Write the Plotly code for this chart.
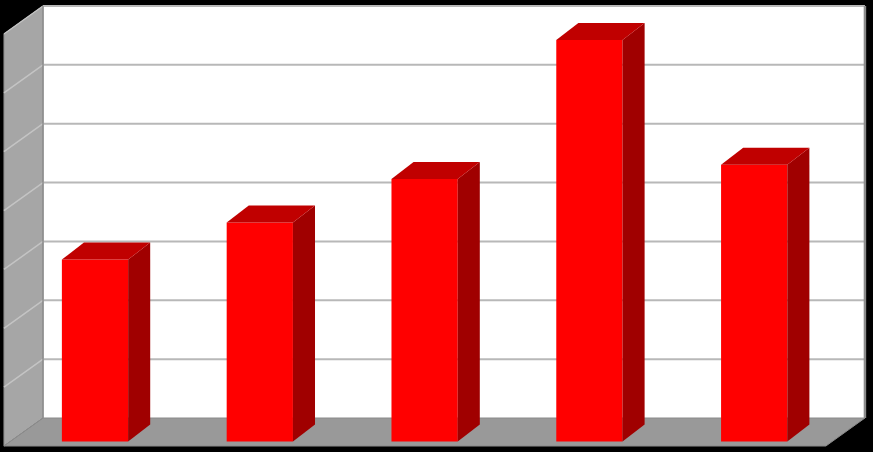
import plotly.graph_objects as go

# values (in gridline steps, axis 0..7, no labels shown)
categories = [0, 1, 2, 3, 4]
values = [3.09, 3.72, 4.46, 6.82, 4.70]
grid_values = [1, 2, 3, 4, 5, 6, 7]
axis_max = 7

RED = "#ff0000"
RED_TOP = "#c00000"
RED_SIDE = "#a00000"

# oblique 3d geometry, in data units
BAR_W = 0.402
BX, BY = 0.134, 0.289          # bar depth
WX, WY = 0.237, 0.476          # wall depth
XL, XR = -0.3155, 4.672        # back wall left / right
Y0 = 0.399                     # back wall floor level

fig = go.Figure()

shapes = []
# back wall
shapes.append(dict(type="rect", x0=XL, x1=XR, y0=Y0, y1=Y0 + axis_max,
                   fillcolor="white", line_width=0, layer="below"))
# left wall
shapes.append(dict(type="path", layer="below", fillcolor="#a6a6a6", line=dict(color="#8a8a8a", width=1),
                   path=f"M {XL},{Y0} L {XL},{Y0 + axis_max} L {XL - WX},{Y0 + axis_max - WY} "
                        f"L {XL - WX},{Y0 - WY} Z"))
# floor
shapes.append(dict(type="path", layer="below", fillcolor="#999999", line=dict(color="#8a8a8a", width=1),
                   path=f"M {XL},{Y0} L {XR},{Y0} L {XR - WX},{Y0 - WY} L {XL - WX},{Y0 - WY} Z"))
# gridlines
for v in grid_values:
    shapes.append(dict(type="line", layer="below", x0=XL, x1=XR, y0=Y0 + v, y1=Y0 + v,
                       line=dict(color="#b8b8b8", width=2)))
    shapes.append(dict(type="line", layer="below", x0=XL, x1=XL - WX, y0=Y0 + v, y1=Y0 + v - WY,
                       line=dict(color="#c4c4c4", width=1.5)))
# back wall edges
shapes.append(dict(type="line", layer="below", x0=XR, x1=XR, y0=Y0, y1=Y0 + axis_max,
                   line=dict(color="#8c8c8c", width=2.5)))
shapes.append(dict(type="line", layer="below", x0=XL, x1=XL, y0=Y0, y1=Y0 + axis_max,
                   line=dict(color="#909090", width=1.5)))

# bar front faces
fig.add_trace(go.Bar(x=categories, y=values, width=BAR_W, marker=dict(color=RED, line_width=0),
                     hoverinfo="skip"))

# bar sides and tops
for c, v in zip(categories, values):
    xr = c + BAR_W / 2
    xl = c - BAR_W / 2
    fig.add_trace(go.Scatter(x=[xr, xr, xr + BX, xr + BX, xr], y=[0, v, v + BY, BY, 0],
                             fill="toself", fillcolor=RED_SIDE, mode="lines", line_width=0,
                             hoverinfo="skip"))
    fig.add_trace(go.Scatter(x=[xl, xr, xr + BX, xl + BX, xl], y=[v, v, v + BY, v + BY, v],
                             fill="toself", fillcolor=RED_TOP, mode="lines", line_width=0,
                             hoverinfo="skip"))

fig.update_layout(
    width=873, height=452,
    margin=dict(l=0, r=0, t=0, b=0),
    paper_bgcolor="black", plot_bgcolor="black",
    showlegend=False,
    shapes=shapes,
    xaxis=dict(range=[-0.5765, 4.7209], visible=False, fixedrange=True),
    yaxis=dict(range=[-0.1784, 7.5008], visible=False, fixedrange=True),
)

# page has a default 8px body margin, drop it so the chart sits at 0,0
fig.write_html("out.html", config={"displayModeBar": False},
               post_script="document.body.style.margin='0';document.body.style.background='black';")
